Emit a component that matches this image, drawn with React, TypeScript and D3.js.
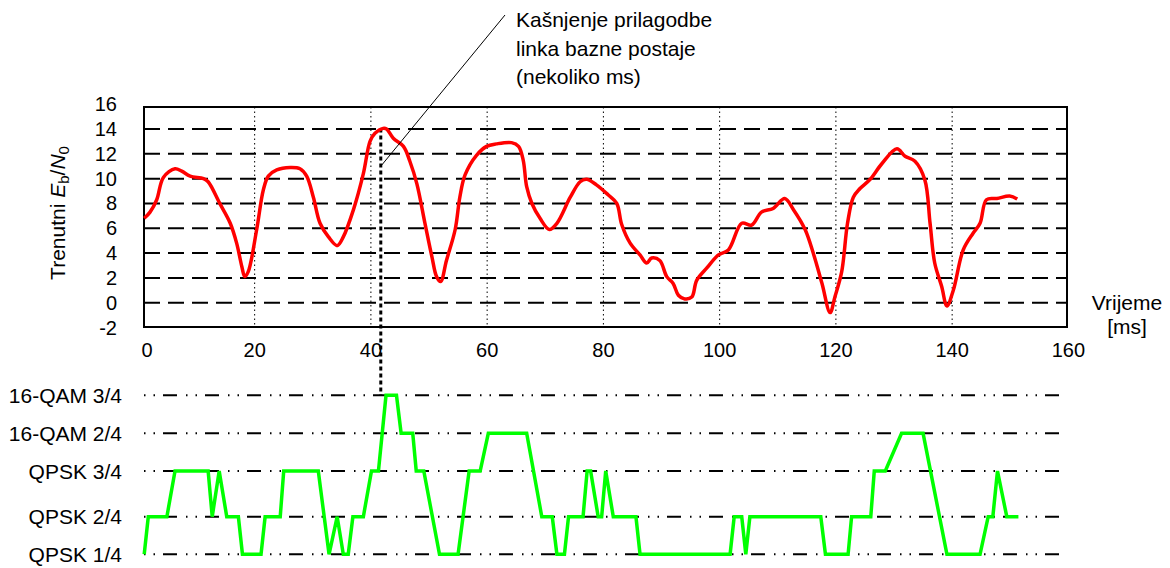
import React, { useEffect, useRef } from 'react';
import * as d3 from 'd3';

// Eb/N0 curve (ms, dB)
const snrTime = [1, 2, 3.15, 4.3, 6.3, 7.45, 8.9, 11.2, 12, 14, 15.8, 16.9, 17.8, 18.3, 18.9, 20.35, 21.5, 22.35, 23.8, 26.1, 27.8, 28.95, 30.1, 31.25, 32.7, 34.2, 35.25, 37, 38.7, 39.85, 40.7, 42.1, 42.7, 43.85, 45.6, 46.7, 47.9, 49.3, 50.5, 51.3, 52, 53, 54.5, 55.3, 56.2, 58.2, 59.9, 61.6, 64.2, 65.4, 66.2, 66.8, 67.7, 69.1, 70.7, 72, 74.3, 76, 77.1, 78.8, 80.8, 82.3, 83.15, 84.6, 86.3, 87.45, 88.3, 89.7, 90.9, 92, 92.9, 94, 95.2, 96.05, 97.8, 99.8, 101.5, 103.8, 105.5, 107.2, 109.2, 111.2, 112.7, 114.7, 116.1, 117.6, 119, 119.85, 121, 122, 123, 124.15, 125.9, 127.9, 130.5, 131.9, 133.6, 135.3, 136.2, 137, 138.2, 139.1, 140.2, 141.9, 143.6, 144.8, 145.9, 147.7, 149.9, 151.2];
const snrValue = [6.8, 7.3, 8.3, 10.1, 10.8, 10.6, 10.2, 10, 9.75, 8, 6.4, 4.8, 2.9, 2.1, 2.5, 5.9, 9.1, 10.2, 10.7, 10.9, 10.8, 10.2, 8.5, 6.4, 5.3, 4.6, 5.3, 7.5, 10.4, 13, 13.65, 14.05, 14, 13.25, 12.6, 11.4, 9.6, 6.4, 3.7, 2.1, 1.7, 3.4, 5.9, 8.5, 10.3, 11.9, 12.6, 12.8, 12.9, 12.6, 11.5, 9.35, 8, 6.8, 5.9, 6.4, 8.5, 9.75, 9.95, 9.5, 8.7, 8, 6.3, 4.8, 3.85, 3.2, 3.6, 3.4, 2.1, 1.55, 0.6, 0.3, 0.45, 1.8, 2.8, 3.85, 4.25, 6.4, 6.25, 7.3, 7.6, 8.4, 7.5, 5.9, 4, 1.56, -0.8, 0.5, 2.5, 6.4, 8.5, 9.2, 9.95, 11.2, 12.4, 11.8, 11.4, 9.9, 6.4, 3.2, 1.3, -0.27, 1, 4.25, 5.6, 6.4, 8.3, 8.4, 8.6, 8.35];

// selected modulation/coding level (index into modLabels)
const modTime = [1, 1.7, 4.9, 6.3, 12, 12.7, 13.9, 15.2, 17.2, 17.9, 21.1, 21.8, 24.4, 25, 30.95, 32.8, 34.2, 35.25, 36.1, 36.9, 38.7, 40.1, 41.3, 42.6, 44.4, 45.2, 47.2, 47.8, 49.1, 51.8, 55, 56.9, 58.8, 60.2, 66.8, 69.4, 71.2, 72, 73.3, 74, 76.5, 77.2, 77.8, 79.1, 79.7, 80.4, 81.7, 85.6, 86.3, 101.8, 102.5, 103.8, 104.5, 105.2, 117.4, 118.2, 122.1, 122.7, 126, 126.6, 128.5, 131.3, 135, 139.1, 144.8, 146.2, 147, 147.8, 149.4, 151.4];
const modLevel = [0, 1, 1, 2, 2, 1, 2, 1, 1, 0, 0, 1, 1, 2, 2, 0, 1, 0, 0, 1, 1, 2, 2, 4, 4, 3, 3, 2, 2, 0, 0, 2, 2, 3, 3, 1, 1, 0, 0, 1, 1, 2, 2, 1, 1, 2, 1, 1, 0, 0, 1, 1, 0, 1, 1, 0, 0, 1, 1, 2, 2, 3, 3, 0, 0, 1, 1, 2, 1, 1];
const modLabels = ['QPSK 1/4', 'QPSK 2/4', 'QPSK 3/4', '16-QAM 2/4', '16-QAM 3/4'];

const xTicks = [0, 20, 40, 60, 80, 100, 120, 140, 160];
const yTicks = [-2, 0, 2, 4, 6, 8, 10, 12, 14, 16];
const yGrid = [0, 2, 4, 6, 8, 10, 12, 14];
const delayTime = 41.7;
const noteLines = ['Kašnjenje prilagodbe', 'linka bazne postaje', '(nekoliko ms)'];

const FONT = '"Liberation Sans", Arial, sans-serif';

const App = () => {
  const svgRef = useRef<SVGSVGElement>(null);

  useEffect(() => {
    const svg = d3.select(svgRef.current);
    svg.selectAll('*').remove();

    const width = 1170, height = 568;
    const frame = { left: 144, right: 1067, top: 107, bottom: 327 };

    const x = d3.scaleLinear().domain([0, 160]).range([138.4, 1068.4]);
    const y = d3.scaleLinear().domain([-2, 16]).range([327.5, 104.2]);
    const lvl = d3.scaleLinear().domain([0, 1, 2, 3, 4]).range([554.3, 516.7, 471, 433.3, 395.3]);

    svg.attr('width', width).attr('height', height).style('font-family', FONT);

    // horizontal dashed grid
    svg.append('g')
      .selectAll('line')
      .data(yGrid)
      .enter()
      .append('line')
      .attr('x1', frame.left).attr('x2', frame.right)
      .attr('y1', d => y(d)).attr('y2', d => y(d))
      .attr('stroke', '#000').attr('stroke-width', 2)
      .attr('stroke-dasharray', '16,8');

    // vertical dotted grid
    svg.append('g')
      .selectAll('line')
      .data(xTicks.slice(1, -1))
      .enter()
      .append('line')
      .attr('x1', d => x(d)).attr('x2', d => x(d))
      .attr('y1', frame.top).attr('y2', frame.bottom)
      .attr('stroke', '#000').attr('stroke-width', 1)
      .attr('stroke-dasharray', '1.5,3');

    svg.append('rect')
      .attr('x', frame.left).attr('y', frame.top)
      .attr('width', frame.right - frame.left).attr('height', frame.bottom - frame.top)
      .attr('fill', 'none').attr('stroke', '#000').attr('stroke-width', 2);

    // y tick labels
    svg.append('g')
      .selectAll('text')
      .data(yTicks)
      .enter()
      .append('text')
      .attr('x', 117)
      .attr('y', d => y(d) + 7)
      .attr('text-anchor', 'end')
      .attr('font-size', 20)
      .text(d => d);

    // x tick labels
    svg.append('g')
      .selectAll('text')
      .data(xTicks)
      .enter()
      .append('text')
      .attr('x', d => Math.max(x(d), frame.left + 3))
      .attr('y', 357)
      .attr('text-anchor', 'middle')
      .attr('font-size', 20)
      .text(d => d);

    // y label
    const yl = svg.append('text')
      .attr('transform', 'translate(65,213) rotate(-90)')
      .attr('text-anchor', 'middle')
      .attr('font-size', 21);
    yl.append('tspan').text('Trenutni ');
    yl.append('tspan').attr('font-style', 'italic').text('E');
    yl.append('tspan').attr('font-size', 15).attr('dy', 4).text('b');
    yl.append('tspan').attr('dy', -4).text('/');
    yl.append('tspan').attr('font-style', 'italic').text('N');
    yl.append('tspan').attr('font-size', 15).attr('dy', 4).text('0');

    // x label
    svg.append('text').attr('x', 1127).attr('y', 310).attr('text-anchor', 'middle')
      .attr('font-size', 21).text('Vrijeme');
    svg.append('text').attr('x', 1127).attr('y', 334).attr('text-anchor', 'middle')
      .attr('font-size', 21).text('[ms]');

    // modulation levels
    svg.append('g')
      .selectAll('line')
      .data(modLabels)
      .enter()
      .append('line')
      .attr('x1', frame.left).attr('x2', frame.right - 1)
      .attr('y1', (d, i) => lvl(i)).attr('y2', (d, i) => lvl(i))
      .attr('stroke', '#000').attr('stroke-width', 2)
      .attr('stroke-dasharray', '14,9,1.5,8,1.5,8')
      .attr('stroke-dashoffset', 23);

    svg.append('g')
      .selectAll('text')
      .data(modLabels)
      .enter()
      .append('text')
      .attr('x', 122)
      .attr('y', (d, i) => lvl(i) + 7.5)
      .attr('text-anchor', 'end')
      .attr('font-size', 21)
      .text(d => d);

    // delay marker
    svg.append('line')
      .attr('x1', x(delayTime)).attr('x2', x(delayTime))
      .attr('y1', y(14.05)).attr('y2', lvl(4))
      .attr('stroke', '#000').attr('stroke-width', 3)
      .attr('stroke-dasharray', '4,3');

    // red Eb/N0 curve
    const snrLine = d3.line<number>()
      .x((d, i) => x(snrTime[i]))
      .y(d => y(d))
      .curve(d3.curveCatmullRom.alpha(0.5));

    svg.append('path')
      .attr('d', snrLine(snrValue))
      .attr('fill', 'none')
      .attr('stroke', '#ff0000')
      .attr('stroke-width', 3.5)
      .attr('stroke-linejoin', 'round');

    // green modulation trace
    const modLine = d3.line<number>()
      .x((d, i) => x(modTime[i]))
      .y(d => lvl(d));

    svg.append('path')
      .attr('d', modLine(modLevel))
      .attr('fill', 'none')
      .attr('stroke', '#00ff00')
      .attr('stroke-width', 3.5);

    // annotation
    svg.append('line')
      .attr('x1', 505).attr('y1', 15)
      .attr('x2', x(delayTime)).attr('y2', y(11))
      .attr('stroke', '#000').attr('stroke-width', 1);

    svg.append('g')
      .selectAll('text')
      .data(noteLines)
      .enter()
      .append('text')
      .attr('x', 516)
      .attr('y', (d, i) => 27 + i * 28.5)
      .attr('font-size', 21)
      .text(d => d);
  }, []);

  return (
    <svg ref={svgRef} style={{ position: 'absolute', left: 0, top: 0, background: '#fff' }} />
  );
};

export default App;
